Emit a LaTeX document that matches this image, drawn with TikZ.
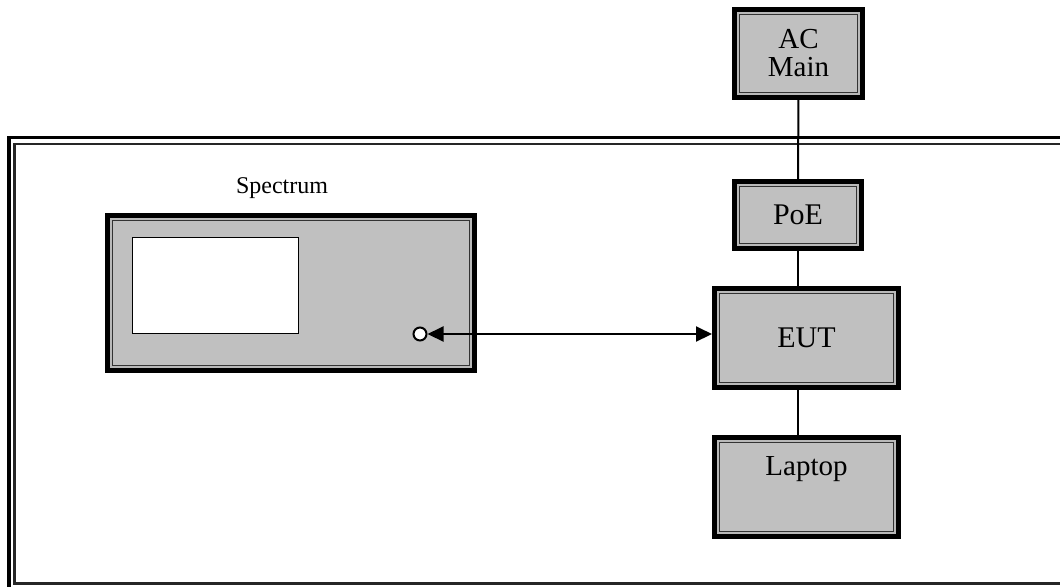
\documentclass[tikz,border=0pt]{standalone}
\usepackage{fontspec}
\setmainfont{Liberation Serif}
\usetikzlibrary{arrows.meta}
\definecolor{panel}{HTML}{C0C0C0}

\begin{document}
\begin{tikzpicture}[x=0.5pt,y=-0.5pt,
  unit/.style={draw, line width=2.5pt, fill=panel, inner sep=0pt,
    font=\fontsize{15}{17}\selectfont,
    path picture={
      \draw[gray!55, line width=1.2pt]
        ([shift={(1.9pt,1.9pt)}]path picture bounding box.south west) rectangle
        ([shift={(-1.9pt,-1.9pt)}]path picture bounding box.north east);
      \draw[black!80, line width=0.5pt]
        ([shift={(2.7pt,2.7pt)}]path picture bounding box.south west) rectangle
        ([shift={(-2.7pt,-2.7pt)}]path picture bounding box.north east);
    }},
  link/.style={line width=1pt},
  >={Triangle[length=8pt,width=7.5pt]}]
\useasboundingbox (0,0) rectangle (1060,586);
\clip (0,0) rectangle (1060,586);

\draw[line width=1.6pt] (9,137.5) rectangle (1080,600);
\draw[line width=1.3pt, black!85] (14.7,144) rectangle (1074,583.5);

\node[unit, minimum width=64pt, minimum height=44pt, align=center,
  font=\fontsize{14.5}{14}\selectfont] (acmain) at (798.5,53.5) {AC\\Main};
\node[unit, minimum width=63.5pt, minimum height=33.5pt] (poe) at (798,215) {PoE};
\node[unit, minimum width=92pt, minimum height=49.5pt] (eut) at (806.5,338) {EUT};
\node[unit, minimum width=92pt, minimum height=49.5pt, text depth=21.25pt,
  font=\fontsize{14.5}{16}\selectfont] (laptop) at (806.5,487) {Laptop};

\node[unit, minimum width=183.5pt, minimum height=77.5pt] (spectrum) at (291,293) {};
\node[draw, fill=white, line width=0.8pt, minimum width=83pt, minimum height=48pt] (screen) at (215.5,285.5) {};
\node[circle, draw, fill=white, line width=1pt, minimum size=6.5pt, inner sep=0pt] (port) at (420,334) {};
\node[font=\fontsize{12}{14}\selectfont] (speclabel) at (282,188) {Spectrum};

\draw[link] (acmain) -- (poe);
\draw[link] (poe) -- (poe |- eut.north);
\draw[link] (eut.south -| poe) -- (laptop.north -| poe);
\draw[link, <->] (port) -- (port -| eut.west);
\end{tikzpicture}
\end{document}
